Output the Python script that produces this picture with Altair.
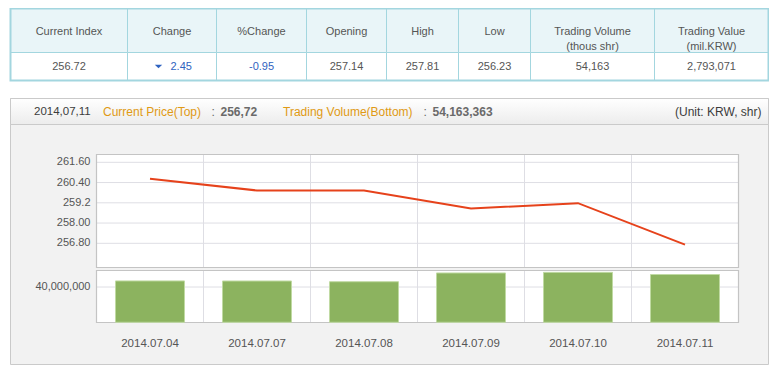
import altair as alt
import pandas as pd

# ---------------- data ----------------
dates = ["2014.07.04", "2014.07.07", "2014.07.08", "2014.07.09", "2014.07.10", "2014.07.11"]
prices = [260.62, 259.93, 259.93, 258.86, 259.18, 256.72]
volumes = [46_900_000, 46_800_000, 46_000_000, 55_900_000, 56_600_000, 54_163_363]

price_ticks = [261.6, 260.4, 259.2, 258.0, 256.8]
price_tick_labels = ["261.60", "260.40", "259.2", "258.00", "256.80"]
volume_ticks = [40_000_000]
volume_tick_labels = ["40,000,000"]

table_headers = ["Current Index", "Change", "%Change", "Opening", "High", "Low",
                 "Trading Volume\n(thous shr)", "Trading Value\n(mil.KRW)"]
table_values = ["256.72", "2.45", "-0.95", "257.14", "257.81", "256.23", "54,163", "2,793,071"]

header_date = "2014,07,11"
header_price_label = "Current Price(Top)"
header_price = "256,72"
header_volume_label = "Trading Volume(Bottom)"
header_volume = "54,163,363"
header_unit = "(Unit: KRW, shr)"

# ---------------- layout / style ----------------
FONT = "Liberation Sans"
W, H = 761, 358
col_widths = [117, 89, 90, 80, 72, 72, 124, 114]
TX0 = 2.5
T_TOP, T_MID, T_BOT = 0.5, 44.5, 72.5
TEAL = "#a3d6df"
HEAD_BG = "#e9f5f8"
TXT = "#555555"
BLUE = "#2f63c0"

P_X0, P_X1, P_Y0, P_Y1 = 2.5, 760.5, 90.5, 356.5
BAND_Y1 = 116.5
L_X0, L_X1 = 88.5, 730.5
LINE_Y0, LINE_Y1 = 146.5, 259.5
BAR_Y0, BAR_Y1 = 262.5, 314.5
GRID = "#dedee4"
FRAME = "#c4c4c4"

edges = [TX0]
for w in col_widths:
    edges.append(edges[-1] + w)
cells = pd.DataFrame({
    "x0": edges[:-1], "x1": edges[1:],
    "cx": [(a + b) / 2 for a, b in zip(edges[:-1], edges[1:])],
    "head": table_headers, "val": table_values,
})
one = pd.DataFrame({"k": [0]})


def box(x0, x1, y0, y1, **kw):
    return alt.Chart(one).mark_rect(**kw).encode(
        x=alt.value(x0), x2=alt.value(x1), y=alt.value(y0), y2=alt.value(y1))


def label(text, x, y, **kw):
    d = dict(font=FONT, fontSize=12, baseline="middle", align="left", color=TXT)
    d.update(kw)
    return alt.Chart(pd.DataFrame({"t": [text]})).mark_text(**d).encode(
        x=alt.value(x), y=alt.value(y), text="t:N")


layers = []

# ---- table ----
layers.append(alt.Chart(cells).mark_rect(fill=HEAD_BG, stroke=TEAL, strokeWidth=1).encode(
    x=alt.X("x0:Q", scale=None, axis=None), x2="x1:Q",
    y=alt.value(T_TOP), y2=alt.value(T_MID)))
layers.append(alt.Chart(cells).mark_rect(fill="white", stroke=TEAL, strokeWidth=1).encode(
    x=alt.X("x0:Q", scale=None, axis=None), x2="x1:Q",
    y=alt.value(T_MID), y2=alt.value(T_BOT)))
layers.append(box(edges[0], edges[-1], T_TOP, T_BOT, fill=None, stroke=TEAL, strokeWidth=2, filled=False))
layers.append(alt.Chart(cells).mark_text(font=FONT, fontSize=11, color=TXT, baseline="middle",
                                          lineBreak="\n", lineHeight=15).encode(
    x=alt.X("cx:Q", scale=None, axis=None), y=alt.value(23.5), text="head:N"))
plain = cells[~cells["head"].isin(["Change", "%Change"])]
layers.append(alt.Chart(plain).mark_text(font=FONT, fontSize=11, color=TXT, baseline="middle").encode(
    x=alt.X("cx:Q", scale=None, axis=None), y=alt.value(59), text="val:N"))
pct = cells[cells["head"] == "%Change"]
layers.append(alt.Chart(pct).mark_text(font=FONT, fontSize=11, color=BLUE, baseline="middle").encode(
    x=alt.X("cx:Q", scale=None, axis=None), y=alt.value(59), text="val:N"))
chg = cells[cells["head"] == "Change"]
layers.append(alt.Chart(chg).mark_text(font=FONT, fontSize=11, color=BLUE, baseline="middle",
                                        align="left", dx=-1).encode(
    x=alt.value(163.5), y=alt.value(59), text="val:N"))
layers.append(alt.Chart(one).mark_point(shape="M-1,-0.5L1,-0.5L0,0.5Z", filled=True, color=BLUE,
                                         size=55, opacity=1).encode(
    x=alt.value(150.5), y=alt.value(58.5)))

# ---- panel ----
grad = alt.LinearGradient(gradient="linear", x1=0, x2=0, y1=0, y2=1,
                          stops=[alt.GradientStop(color="#ffffff", offset=0),
                                 alt.GradientStop(color="#ececec", offset=1)])
layers.append(box(P_X0, P_X1, P_Y0, P_Y1, fill="#f2f2f2", stroke="#cacaca", strokeWidth=1))
layers.append(box(P_X0, P_X1, P_Y0, BAND_Y1, fill=grad, stroke="#cacaca", strokeWidth=1))
layers.append(label(header_date, 26, 103.5, fontSize=11.5, color="#3c3c3c"))
layers.append(label(header_price_label, 95, 103.5, color="#e09a14"))
layers.append(label(":", 203.5, 103.5, color="#666666"))
layers.append(label(header_price, 212.5, 103.5, color="#6a6a6a", fontWeight="bold"))
layers.append(label(header_volume_label, 275, 103.5, color="#e09a14"))
layers.append(label(":", 415.5, 103.5, color="#666666"))
layers.append(label(header_volume, 424.5, 103.5, color="#6a6a6a", fontWeight="bold"))
layers.append(label(header_unit, 753.5, 103.5, align="right", color="#3c3c3c"))

# plot backgrounds
layers.append(box(L_X0, L_X1, LINE_Y0, LINE_Y1, fill="white"))
layers.append(box(L_X0, L_X1, BAR_Y0, BAR_Y1, fill="white"))

# scales
grid_x = alt.Scale(type="band", domain=dates, range=[L_X0, L_X1], paddingInner=0, paddingOuter=0)
band_x = alt.Scale(type="band", domain=dates, range=[L_X0, L_X1], paddingInner=0.355, paddingOuter=0.1775)
price_y = alt.Scale(domain=[256.8, 261.6], range=[235.3, 154.3], nice=False, zero=False)
vol_y = alt.Scale(domain=[0, 40_000_000], range=[314.3, 279.0], nice=False, zero=False)

df = pd.DataFrame({"date": dates, "price": prices, "volume": volumes})
inner = df[df["date"] != dates[0]]

# vertical gridlines
for y0, y1 in [(LINE_Y0, LINE_Y1), (BAR_Y0, BAR_Y1)]:
    layers.append(alt.Chart(inner).mark_rule(color=GRID, strokeWidth=1).encode(
        x=alt.X("date:N", scale=grid_x, axis=None, bandPosition=0),
        y=alt.value(y0), y2=alt.value(y1)))

# horizontal gridlines + labels
pt = pd.DataFrame({"v": price_ticks, "lab": price_tick_labels})
layers.append(alt.Chart(pt).mark_rule(color=GRID, strokeWidth=1).encode(
    y=alt.Y("v:Q", scale=price_y, axis=None), x=alt.value(L_X0), x2=alt.value(L_X1)))
layers.append(alt.Chart(pt).mark_text(font=FONT, fontSize=11, color=TXT, align="right",
                                      baseline="middle").encode(
    y=alt.Y("v:Q", scale=price_y, axis=None), x=alt.value(82.5), text="lab:N"))
vt = pd.DataFrame({"v": volume_ticks, "lab": volume_tick_labels})
layers.append(alt.Chart(vt).mark_rule(color=GRID, strokeWidth=1).encode(
    y=alt.Y("v:Q", scale=vol_y, axis=None), x=alt.value(L_X0), x2=alt.value(L_X1)))
layers.append(alt.Chart(vt).mark_text(font=FONT, fontSize=11, color=TXT, align="right",
                                      baseline="middle").encode(
    y=alt.Y("v:Q", scale=vol_y, axis=None), x=alt.value(82.5), text="lab:N"))

# frames
layers.append(box(L_X0, L_X1, LINE_Y0, LINE_Y1, fill=None, filled=False, stroke=FRAME, strokeWidth=1.2))
layers.append(box(L_X0, L_X1, BAR_Y0, BAR_Y1, fill=None, filled=False, stroke=FRAME, strokeWidth=1.2))

# data marks
layers.append(alt.Chart(df).mark_line(color="#e6421b", strokeWidth=2).encode(
    x=alt.X("date:N", scale=band_x, axis=None),
    y=alt.Y("price:Q", scale=price_y, axis=None)))
layers.append(alt.Chart(df).mark_bar(color="#8cb35f", stroke="#c0daa3", strokeWidth=1).encode(
    x=alt.X("date:N", scale=band_x, axis=None),
    y=alt.Y("volume:Q", scale=vol_y, axis=None)))
layers.append(alt.Chart(df).mark_text(font=FONT, fontSize=11.5, color=TXT, baseline="middle").encode(
    x=alt.X("date:N", scale=band_x, axis=None), y=alt.value(336), text="date:N"))

chart = alt.layer(*layers).resolve_scale(x="independent", y="independent").properties(
    width=W, height=H, padding=0, autosize=alt.AutoSizeParams(type="none"),
    background="white",
).configure_view(strokeWidth=0)

chart.save("out.html", embed_options={"renderer": "svg", "actions": False})
